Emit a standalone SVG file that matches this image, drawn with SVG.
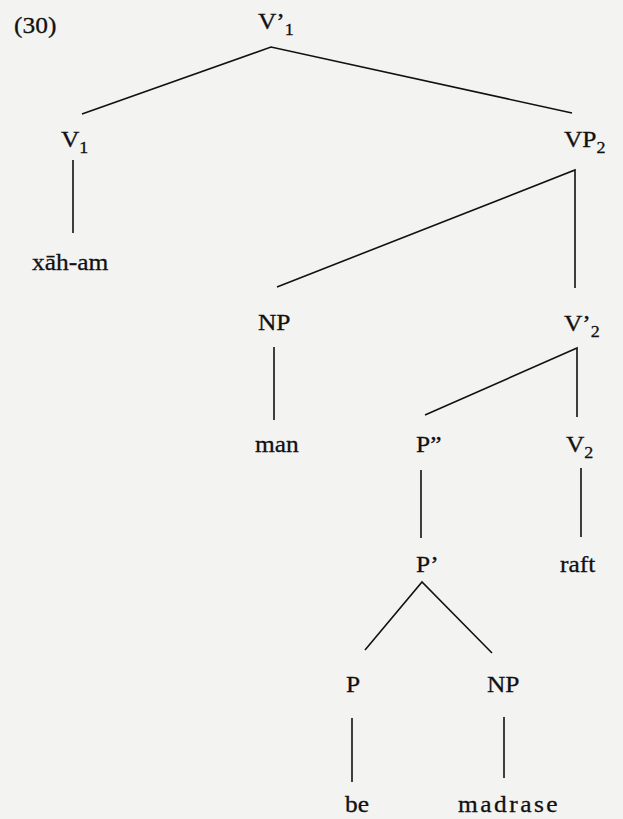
<svg xmlns="http://www.w3.org/2000/svg" width="623" height="819" viewBox="0 0 623 819">
<style>
.t{font-family:"Liberation Serif","Times New Roman",serif;font-size:24px;fill:#111;stroke:#111;stroke-width:0.3}
.s{font-size:17px}
.c{stroke:#111;stroke-width:1.6;fill:none;stroke-linejoin:miter}
</style>
<rect width="623" height="819" fill="#f3f3f1"/>
<g id="connectors" class="c">
<polyline points="82,114 271,47 572,113"/>
<line x1="73" y1="160" x2="73" y2="233"/>
<polyline points="277,287 575,170 575,288"/>
<line x1="274" y1="347" x2="274" y2="420"/>
<polyline points="425,415 577,348 577,417"/>
<line x1="421" y1="470" x2="421" y2="538"/>
<line x1="581" y1="468" x2="581" y2="537"/>
<polyline points="365,650 422,582 492,653"/>
<line x1="352" y1="718" x2="352" y2="782"/>
<line x1="504" y1="717" x2="504" y2="778"/>
</g>
<g id="label30"><text class="t" transform="translate(14,33) scale(1.06,1)">(30)</text></g>
<g id="Vbar1"><text class="t" transform="translate(258,29) scale(1.06,1)">V’<tspan class="s" dy="6">1</tspan></text></g>
<g id="V1"><text class="t" transform="translate(61,147) scale(1.06,1)">V<tspan class="s" dy="6">1</tspan></text></g>
<g id="xaham"><text class="t" transform="translate(32,270) scale(1.06,1)">xāh-am</text></g>
<g id="VP2"><text class="t" transform="translate(564,147) scale(1.06,1)">VP<tspan class="s" dy="6">2</tspan></text></g>
<g id="NP1"><text class="t" transform="translate(258,330) scale(1.06,1)">NP</text></g>
<g id="man"><text class="t" transform="translate(255,452) scale(1.06,1)">man</text></g>
<g id="Vbar2"><text class="t" transform="translate(564,331) scale(1.06,1)">V’<tspan class="s" dy="6">2</tspan></text></g>
<g id="Pbarbar"><text class="t" transform="translate(416,452) scale(1.06,1)">P”</text></g>
<g id="V2"><text class="t" transform="translate(566,452) scale(1.06,1)">V<tspan class="s" dy="6">2</tspan></text></g>
<g id="Pbar"><text class="t" transform="translate(416,572) scale(1.06,1)">P’</text></g>
<g id="raft"><text class="t" transform="translate(560,572) scale(1.06,1)">raft</text></g>
<g id="P"><text class="t" transform="translate(346,692) scale(1.06,1)">P</text></g>
<g id="NP2"><text class="t" transform="translate(487,692) scale(1.06,1)">NP</text></g>
<g id="be"><text class="t" transform="translate(345,812) scale(1.06,1)">be</text></g>
<g id="madrase"><text class="t" transform="translate(458,812) scale(1.06,1)" textLength="94" lengthAdjust="spacing">madrase</text></g>
</svg>
